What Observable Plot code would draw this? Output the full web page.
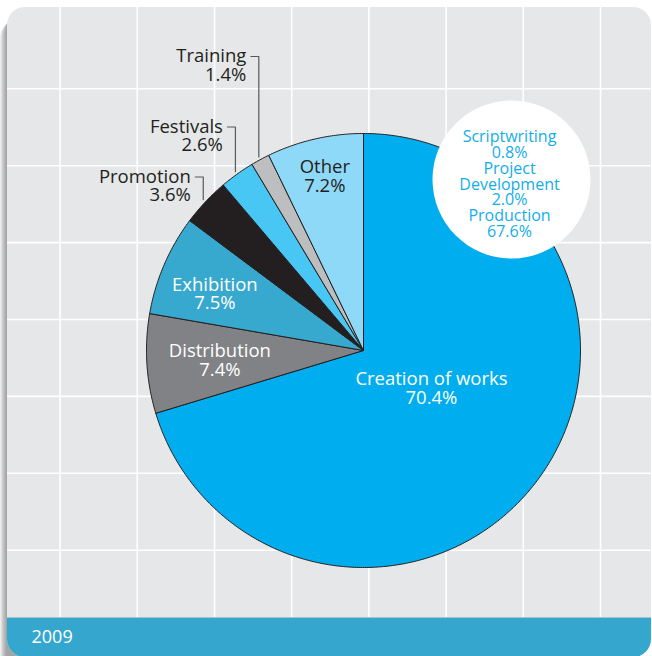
<!DOCTYPE html>
<html><head><meta charset="utf-8">
<script src="https://cdn.jsdelivr.net/npm/d3@7"></script>
<script src="https://cdn.jsdelivr.net/npm/@observablehq/plot@0.6"></script>
<style>
html,body{margin:0;padding:0;background:#fff;}
#chart svg{display:block;}
</style></head><body><div id="chart"></div>
<script>
// ---------- data ----------
const categories = ["Creation of works","Distribution","Exhibition","Promotion","Festivals","Training","Other"];
const shares = [70.4, 7.4, 7.5, 3.6, 2.6, 1.4, 7.2];
const sliceColors = ["#00AEEF","#808285","#37A8CE","#231F20","#48C7F4","#BCBEC0","#8FD9F8"];
const subCategories = ["Scriptwriting","Project\nDevelopment","Production"];
const subShares = [0.8, 2.0, 67.6];
const yearLabel = "2009";

// ---------- layout ----------
const W = 652, H = 656;
const px0 = 7, px1 = 651, py0 = 7, py1 = 657, corner = 18;
const footerTop = 617;
const cx = 363, cy = 350, R = 217;
const gridXs = d3.range(59.6, px1, 77.2);
const gridYs = d3.range(88.3, footerTop - 10, 76.9);
const dark = "#231F20";
const fs = 18.5, lh = 1.0;
// inside labels: [slice index, radius, angle shift in degrees, color]
const insideLabels = [[0, 78, -7.2, "white"], [1, 144, -0.6, "white"], [2, 159, -2.5, "white"], [6, 178, 0.4, dark]];
// outside labels: [slice index, y of first text line]
const outsideLabels = [[5, 56], [4, 126.5], [3, 176.5]];
const bubble = {x: 511, y: 179, r: 79};

// ---------- geometry from data ----------
const arcs = d3.pie().sort(null)(shares);
const polar = (a, r) => ({x: cx + r * Math.sin(a), y: cy - r * Math.cos(a)});
const slicePts = [];
arcs.forEach((a, i) => {
  slicePts.push({k: categories[i], x: cx, y: cy});
  const n = Math.max(2, Math.ceil((a.endAngle - a.startAngle) / (Math.PI / 360)));
  for (let j = 0; j <= n; j++) {
    const t = a.startAngle + (a.endAngle - a.startAngle) * j / n;
    slicePts.push({k: categories[i], ...polar(t, R)});
  }
  slicePts.push({k: categories[i], x: cx, y: cy});
});
const pct = v => v.toFixed(1) + "%";
const mid = a => (a.startAngle + a.endAngle) / 2;

const inside = insideLabels.map(([i, r, da, c]) => ({
  text: categories[i] + "\n" + pct(shares[i]), c,
  ...polar(mid(arcs[i]) + da * Math.PI / 180, r)
}));

const leaders = [], outside = [];
outsideLabels.forEach(([i, ly]) => {
  const p = polar(mid(arcs[i]), R + 3);
  leaders.push({k: i, x: p.x, y: p.y}, {k: i, x: p.x, y: ly}, {k: i, x: p.x - 8, y: ly});
  outside.push({text: categories[i] + "\n" + pct(shares[i]), x: p.x - 12.5, y: ly + fs * lh / 2});
});

const bubbleText = subCategories.map((s, i) => s + "\n" + pct(subShares[i])).join("\n");
const shadowSteps = d3.range(1, 8);

const chart = Plot.plot({
  width: W, height: H,
  margin: 0,
  style: {fontFamily: "'Open Sans', sans-serif", background: "white"},
  x: {domain: [0, W], range: [0, W], axis: null},
  y: {domain: [0, H], range: [0, H], axis: null},
  color: {type: "ordinal", domain: categories, range: sliceColors},
  marks: [
    // drop shadow on the left
    Plot.rect(shadowSteps, {x1: d => px0 - d, x2: px0 + 30, y1: d => py0 + 6 + d, y2: H + 20, rx: corner, fill: "#555", fillOpacity: 0.1}),
    // panel
    Plot.rect([0], {x1: px0, x2: px1, y1: py0, y2: py1, rx: corner, fill: "#E6E7E8"}),
    Plot.ruleX(gridXs, {x: d => d, y1: py0, y2: footerTop, stroke: "white", strokeWidth: 1.6}),
    Plot.ruleY(gridYs, {y: d => d, x1: px0, x2: px1, stroke: "white", strokeWidth: 1.6}),
    // footer
    Plot.rect([0], {x1: px0, x2: px1, y1: footerTop, y2: py1, rx: corner, fill: "#35A7CE"}),
    Plot.rect([0], {x1: px0, x2: px1, y1: footerTop, y2: footerTop + 20, fill: "#35A7CE"}),
    Plot.ruleY([footerTop], {x1: px0, x2: px1, stroke: "#A9C3CF", strokeWidth: 1}),
    Plot.text([yearLabel], {x: px0 + 24, y: 637, text: d => d, textAnchor: "start", fill: "white", fontSize: 18}),
    // pie slices
    Plot.line(slicePts, {x: "x", y: "y", z: "k", fill: "k", stroke: dark, strokeWidth: 1, strokeLinejoin: "round"}),
    // callout bubble
    Plot.dot([bubble], {x: "x", y: "y", r: bubble.r, fill: "white", stroke: null}),
    Plot.text([bubbleText], {x: bubble.x - 2, y: 184, text: d => d, fill: "#13ADEB", fontSize: 16, lineHeight: 0.98}),
    // inside labels
    Plot.text(inside, {x: "x", y: "y", text: "text", fill: "c", fontSize: fs, lineHeight: lh}),
    // leaders and outside labels
    Plot.line(leaders, {x: "x", y: "y", z: "k", stroke: "#58595B", strokeWidth: 1.2}),
    Plot.text(outside, {x: "x", y: "y", text: "text", textAnchor: "end", fill: dark, fontSize: fs, lineHeight: lh})
  ]
});
document.getElementById("chart").appendChild(chart);
</script>
</body></html>
